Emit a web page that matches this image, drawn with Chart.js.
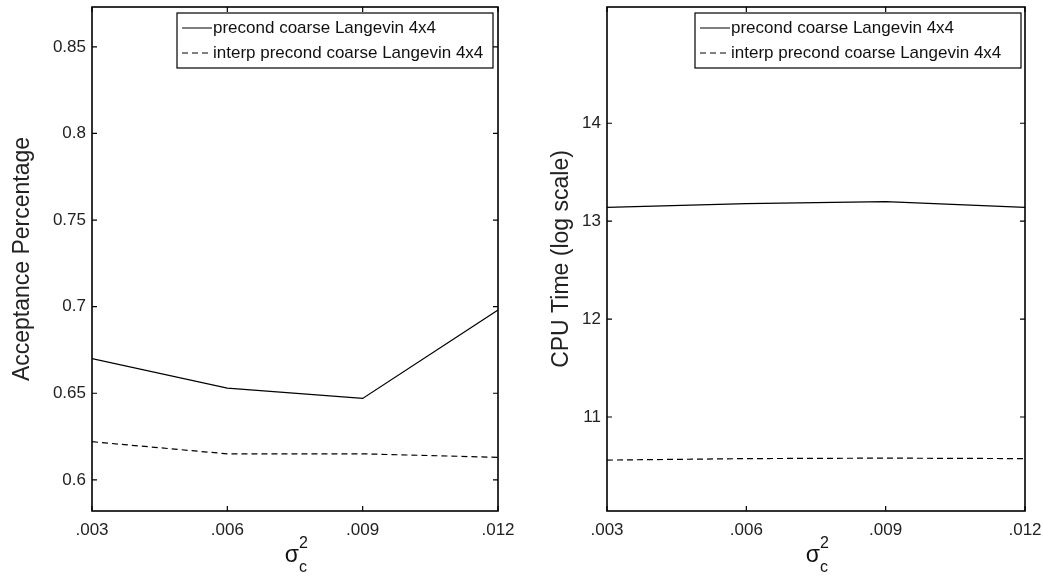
<!DOCTYPE html>
<html>
<head>
<meta charset="utf-8">
<script src="https://cdn.jsdelivr.net/npm/chart.js@4.4.0/dist/chart.umd.min.js"></script>
<style>
  body { margin: 0; background: #fff; }
  .wrap { position: absolute; top: 0; height: 579px; }
  #w1 { left: 0; width: 521px; }
  #w2 { left: 521px; width: 522px; }
</style>
</head>
<body>
<div class="wrap" id="w1"><canvas id="c1"></canvas></div>
<div class="wrap" id="w2"><canvas id="c2"></canvas></div>
<script>
// data
const sigmaC2 = [0.003, 0.006, 0.009, 0.012];
const xTickLabels = ['.003', '.006', '.009', '.012'];
const seriesNames = ['precond coarse Langevin 4x4', 'interp precond coarse Langevin 4x4'];

const acceptPrecond = [0.670, 0.653, 0.647, 0.698];
const acceptInterp = [0.622, 0.615, 0.615, 0.613];
const acceptTicks = [0.6, 0.65, 0.7, 0.75, 0.8, 0.85];

const cpuPrecond = [13.14, 13.18, 13.20, 13.14];
const cpuInterp = [10.56, 10.575, 10.58, 10.575];
const cpuTicks = [11, 12, 13, 14];

const FONT = "'Liberation Sans', Arial, Helvetica, sans-serif";

// matlab style box, inward ticks, legend and sigma label
const matlabBox = {
    id: 'matlabBox',
    afterDraw(chart) {
        const ctx = chart.ctx;
        const a = chart.chartArea;
        const xs = chart.scales.x, ys = chart.scales.y;
        ctx.save();
        ctx.strokeStyle = '#000';
        ctx.lineWidth = 1.6;
        ctx.strokeRect(a.left, a.top, a.right - a.left, a.bottom - a.top);
        ctx.lineWidth = 1.2;
        ctx.beginPath();
        xs.ticks.forEach(t => {
            const px = xs.getPixelForValue(t.value);
            ctx.moveTo(px, a.bottom); ctx.lineTo(px, a.bottom - 5);
            ctx.moveTo(px, a.top); ctx.lineTo(px, a.top + 5);
        });
        ys.ticks.forEach(t => {
            const py = ys.getPixelForValue(t.value);
            ctx.moveTo(a.left, py); ctx.lineTo(a.left + 5, py);
            ctx.moveTo(a.right, py); ctx.lineTo(a.right - 5, py);
        });
        ctx.stroke();

        // legend
        const lg = chart.options.plugins.boxLegend;
        ctx.fillStyle = '#fff';
        ctx.fillRect(lg.x, lg.y, lg.w, lg.h);
        ctx.lineWidth = 1.2;
        ctx.strokeRect(lg.x, lg.y, lg.w, lg.h);
        ctx.font = '17px ' + FONT;
        ctx.textBaseline = 'middle';
        ctx.fillStyle = '#111';
        chart.data.datasets.forEach((ds, i) => {
            const yy = lg.y + 15 + i * 25;
            ctx.beginPath();
            ctx.setLineDash(ds.borderDash || []);
            ctx.lineWidth = 1;
            ctx.moveTo(lg.x + 5, yy); ctx.lineTo(lg.x + 35, yy);
            ctx.stroke();
            ctx.setLineDash([]);
            ctx.fillText(ds.label, lg.x + 36, yy);
        });

        // x axis label: sigma_c^2
        const cx = (a.left + a.right) / 2;
        ctx.font = '23px ' + FONT;
        ctx.textBaseline = 'alphabetic';
        ctx.textAlign = 'right';
        ctx.fillText('σ', cx + 4, 562);
        ctx.textAlign = 'left';
        ctx.font = '16px ' + FONT;
        ctx.fillText('2', cx + 4, 548);
        ctx.fillText('c', cx + 4, 572);
        ctx.restore();
    }
};

function makeChart(id, a, b, yMin, yMax, yTicks, yTitle, yWidth, rightPad, titlePad, legendBox) {
    return new Chart(document.getElementById(id), {
        type: 'line',
        data: {
            datasets: [
                { label: seriesNames[0], data: sigmaC2.map((x, i) => ({ x: x, y: a[i] })),
                  borderColor: '#000', borderWidth: 1.2, pointRadius: 0, tension: 0, fill: false },
                { label: seriesNames[1], data: sigmaC2.map((x, i) => ({ x: x, y: b[i] })),
                  borderColor: '#000', borderWidth: 1.2, borderDash: [6, 4], pointRadius: 0, tension: 0, fill: false }
            ]
        },
        options: {
            responsive: true,
            maintainAspectRatio: false,
            animation: false,
            layout: { padding: { top: 7, right: rightPad, bottom: 0, left: 0 } },
            plugins: {
                legend: { display: false },
                tooltip: { enabled: false },
                boxLegend: legendBox
            },
            scales: {
                x: {
                    type: 'linear',
                    min: sigmaC2[0],
                    max: sigmaC2[sigmaC2.length - 1],
                    afterBuildTicks: (s) => { s.ticks = sigmaC2.map(v => ({ value: v })); },
                    afterFit: (s) => { s.height = 68; s.paddingLeft = 0; s.paddingRight = 0; },
                    grid: { display: false, drawTicks: false },
                    border: { display: false },
                    ticks: {
                        padding: 9,
                        color: '#222',
                        font: { family: FONT, size: 17 },
                        maxRotation: 0,
                        callback: (v) => xTickLabels[sigmaC2.indexOf(v)]
                    }
                },
                y: {
                    min: yMin,
                    max: yMax,
                    afterBuildTicks: (s) => { s.ticks = yTicks.map(v => ({ value: v })); },
                    afterFit: (s) => { s.width = yWidth; s.paddingTop = 0; s.paddingBottom = 0; },
                    grid: { display: false, drawTicks: false },
                    border: { display: false },
                    ticks: {
                        padding: 6,
                        color: '#222',
                        font: { family: FONT, size: 17 },
                        callback: (v) => String(v)
                    },
                    title: {
                        display: true,
                        text: yTitle,
                        color: '#222',
                        font: { family: FONT, size: 23 },
                        padding: { top: titlePad, bottom: 0 }
                    }
                }
            }
        },
        plugins: [matlabBox]
    });
}

makeChart('c1', acceptPrecond, acceptInterp, 0.582, 0.873, acceptTicks,
    'Acceptance Percentage', 92, 23, 9, { x: 177, y: 13, w: 316, h: 55 });
makeChart('c2', cpuPrecond, cpuInterp, 10.04, 15.187, cpuTicks,
    'CPU Time (log scale)', 86, 18, 27, { x: 174, y: 13, w: 326, h: 55 });
</script>
</body>
</html>
